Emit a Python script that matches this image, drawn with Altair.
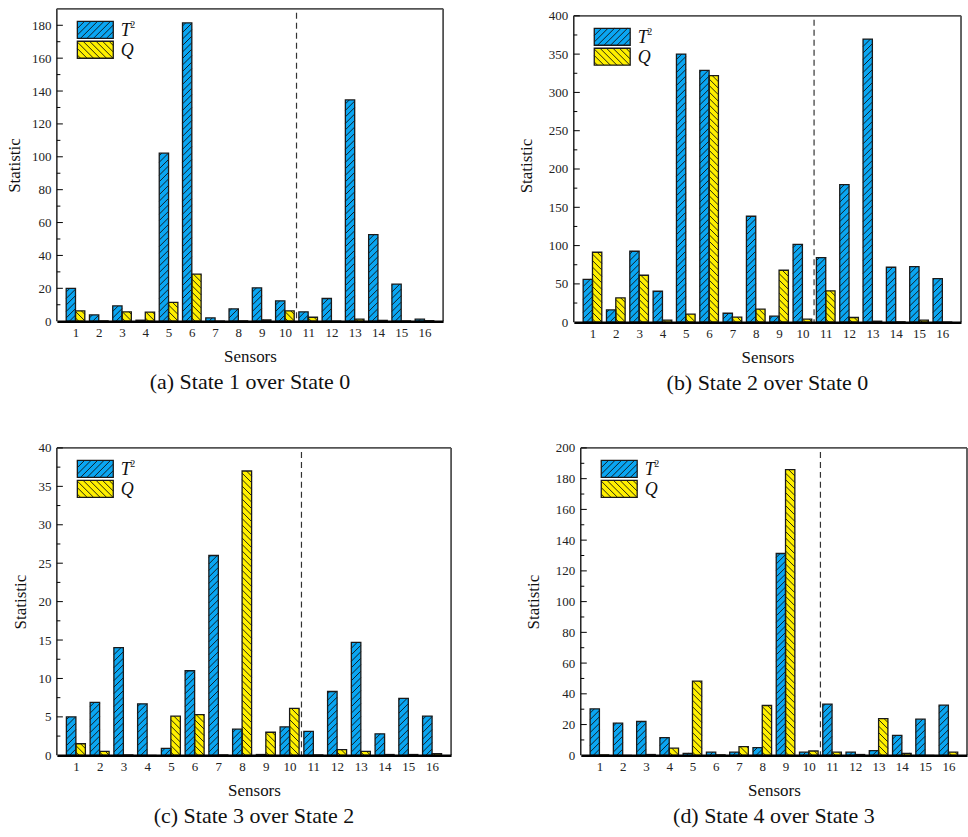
import altair as alt
import numpy as np
import pandas as pd

# ---------------- data ----------------
sensors = list(range(1, 17))

t2_a = [20.0, 3.8, 9.3, 0.6, 102.2, 181.4, 2.0, 7.5, 20.3, 12.4, 5.7, 13.8, 134.6, 52.7, 22.5, 1.2]
q_a = [6.3, 0.2, 5.7, 5.5, 11.4, 28.6, 0.1, 0.2, 0.8, 6.3, 2.4, 0.1, 1.2, 0.5, 0.2, 0.3]

t2_b = [56.0, 16.0, 92.6, 40.4, 350.0, 328.7, 11.7, 138.3, 7.8, 101.7, 84.3, 179.6, 369.6, 71.7, 72.6, 57.0]
q_b = [91.3, 31.7, 61.3, 2.6, 10.4, 322.0, 6.5, 17.0, 67.8, 3.9, 40.9, 6.1, 1.3, 0.5, 2.6, 0.2]

t2_c = [5.0, 6.9, 14.0, 6.7, 0.9, 11.0, 26.0, 3.4, 0.1, 3.7, 3.1, 8.3, 14.7, 2.8, 7.4, 5.1]
q_c = [1.5, 0.5, 0.05, 0.0, 5.1, 5.3, 0.05, 37.0, 3.0, 6.1, 0.05, 0.75, 0.5, 0.1, 0.1, 0.2]

t2_d = [30.2, 20.9, 22.0, 11.5, 1.3, 2.0, 2.0, 5.0, 131.3, 2.0, 33.3, 2.0, 3.0, 13.0, 23.5, 32.6]
q_d = [0.3, 0.0, 0.5, 4.6, 48.3, 0.3, 5.7, 32.4, 185.9, 2.8, 2.0, 0.5, 23.9, 1.3, 0.0, 2.0]

captions = ["(a) State 1 over State 0", "(b) State 2 over State 0",
            "(c) State 3 over State 2", "(d) State 4 over State 3"]
y_max = [190, 400, 40, 200]
y_step = [20, 50, 5, 20]
divider = 10.5

# ---------------- style ----------------
SERIF = "Liberation Serif"
BLUE = "#0AA6F2"
YELLOW = "#FFF000"
EDGE = "#1a1a1a"
BW = 0.4
XMIN, XMAX = 0.2, 16.8
HATCH = 6.5


def hatch_segs(w, h, s, kind):
    segs = []
    if w <= 0 or h < 1.2:
        return segs
    if kind == "/":
        k0 = int(np.floor(-w / s)) - 1
        k1 = int(np.ceil(h / s)) + 1
        for k in range(k0, k1 + 1):
            c = k * s + s / 2
            a = max(0.0, -c)
            b = min(w, h - c)
            if b - a > 0.4:
                segs.append((a, a + c, b, b + c))
    else:
        k1 = int(np.ceil((w + h) / s)) + 1
        for k in range(0, k1 + 1):
            c = k * s + s / 2
            a = max(0.0, c - h)
            b = min(w, c)
            if b - a > 0.4:
                segs.append((a, c - a, b, c - b))
    return segs


def panel(t2, q, ymax, step, W, H, caption, tpad, top_pad=0):
    """H is the framed plot height; top_pad adds empty room above the frame."""
    Hg = H + top_pad
    kx = W / (XMAX - XMIN)
    ky = H / ymax
    ydom = ymax * Hg / H
    xs = alt.Scale(domain=[XMIN, XMAX], nice=False, zero=False)
    ys = alt.Scale(domain=[0, ydom], nice=False, zero=False)

    rows = []
    for i, s in enumerate(sensors):
        rows.append(dict(series="T2", x0=s - BW, x1=s, y0=0.0, y1=t2[i]))
        rows.append(dict(series="Q", x0=s, x1=s + BW, y0=0.0, y1=q[i]))
    # legend swatches (pixel box converted into the panel's data space)
    for series, top in (("T2", 12.5), ("Q", 32.5)):
        L, sw, sh = 20.5, 36.0, 17.0
        tp = top + top_pad
        rows.append(dict(series=series,
                         x0=XMIN + L / kx, x1=XMIN + (L + sw) / kx,
                         y0=(Hg - tp - sh) / ky, y1=(Hg - tp) / ky))
    bars = pd.DataFrame(rows)

    hrows = []
    for r in rows:
        w = (r["x1"] - r["x0"]) * kx
        h = (r["y1"] - r["y0"]) * ky
        kind = "/" if r["series"] == "T2" else "\\"
        for (a, pa, b, pb) in hatch_segs(w, h, HATCH, kind):
            hrows.append(dict(hx1=r["x0"] + a / kx, hy1=r["y0"] + pa / ky,
                              hx2=r["x0"] + b / kx, hy2=r["y0"] + pb / ky))
    hatch = pd.DataFrame(hrows)

    majors = [m for m in range(0, ymax + 1, step) if m <= ymax]
    minors = [m + step / 2 for m in majors if m + step / 2 < ymax]

    xaxis = alt.Axis(title="Sensors", values=sensors, format="d", grid=False, ticks=False,
                     domainColor="black", domainWidth=2.5, labelFont=SERIF, labelFontSize=13,
                     labelColor="#222", labelPadding=5, titleFont=SERIF, titleFontSize=17,
                     titleFontWeight="normal", titleColor="#111", titlePadding=9,
                     labelOverlap=False, labelFlush=False, zindex=1)
    yaxis = alt.Axis(title="Statistic", values=majors, grid=False, ticks=False, domain=False,
                     labelFont=SERIF, labelFontSize=13,
                     labelColor="#222", labelPadding=6, titleFont=SERIF, titleFontSize=17,
                     titleFontWeight="normal", titleColor="#111", titlePadding=tpad,
                     labelOverlap=False, zindex=1)

    X = lambda f: alt.X(f, scale=xs, axis=xaxis)
    Y = lambda f: alt.Y(f, scale=ys, axis=yaxis)

    color = alt.Fill("series:N", scale=alt.Scale(domain=["T2", "Q"], range=[BLUE, YELLOW]),
                     legend=None)

    fill = alt.Chart(bars).mark_rect(strokeWidth=0).encode(
        x=X("x0:Q"), x2="x1", y=Y("y1:Q"), y2="y0", fill=color)

    lines = alt.Chart(hatch).mark_rule(color="#111", strokeWidth=0.9).encode(
        x=X("hx1:Q"), x2="hx2", y=Y("hy1:Q"), y2="hy2")

    outline = alt.Chart(bars).mark_rect(fillOpacity=0, stroke=EDGE, strokeWidth=1.3).encode(
        x=X("x0:Q"), x2="x1", y=Y("y1:Q"), y2="y0")

    # frame: left, right (black) and top (grey) borders
    def border(x1, x2, y1, y2, col, wid):
        return alt.Chart(pd.DataFrame({"fx": [x1], "fx2": [x2], "fy": [y1], "fy2": [y2]})
                         ).mark_rule(color=col, strokeWidth=wid).encode(
            x=X("fx:Q"), x2="fx2", y=Y("fy:Q"), y2="fy2")

    left = border(XMIN, XMIN, 0, ymax, "black", 1.3)
    right = border(XMAX, XMAX, 0, ymax, "#222", 1.4)
    topb = border(XMIN, XMAX, ymax, ymax, "#555", 1.8)

    tick_major = alt.Chart(pd.DataFrame({"v": majors[1:]})).mark_rule(
        color="black", strokeWidth=1).encode(
        y=Y("v:Q"), x=alt.value(0), x2=alt.value(6))
    tick_minor = alt.Chart(pd.DataFrame({"v": minors})).mark_rule(
        color="black", strokeWidth=1).encode(
        y=Y("v:Q"), x=alt.value(0), x2=alt.value(3.5))

    dash = alt.Chart(pd.DataFrame({"d": [divider]})).mark_rule(
        color="#333", strokeWidth=1.2, strokeDash=[6, 4]).encode(
        x=X("d:Q"), y=alt.value(4 + top_pad), y2=alt.value(Hg))

    one = pd.DataFrame({"k": [0]})
    t_text = alt.Chart(one).mark_text(text="T", font=SERIF, fontSize=18, fontStyle="italic",
                                      align="left", baseline="middle", color="#111").encode(
        x=alt.value(64), y=alt.value(22 + top_pad))
    sup_text = alt.Chart(one).mark_text(text="2", font=SERIF, fontSize=10,
                                        align="left", baseline="middle", color="#111").encode(
        x=alt.value(73.5), y=alt.value(16 + top_pad))
    q_text = alt.Chart(one).mark_text(text="Q", font=SERIF, fontSize=18, fontStyle="italic",
                                      align="left", baseline="middle", color="#111").encode(
        x=alt.value(64), y=alt.value(42 + top_pad))

    return alt.layer(fill, lines, outline, left, right, topb, tick_major, tick_minor, dash,
                     t_text, sup_text, q_text).properties(
        width=W, height=Hg,
        title=alt.TitleParams(caption, orient="bottom", anchor="middle", frame="group",
                              font=SERIF, fontSize=22, fontWeight="normal", color="#111",
                              offset=8))


pa = panel(t2_a, q_a, y_max[0], y_step[0], 387, 313, captions[0], 8)
pb = panel(t2_b, q_b, y_max[1], y_step[1], 388, 307, captions[1], 13, top_pad=7)
pc = panel(t2_c, q_c, y_max[2], y_step[2], 395, 308, captions[2], 8)
pd_ = panel(t2_d, q_d, y_max[3], y_step[3], 387, 308, captions[3], 13)

top = alt.hconcat(pa, pb, spacing=131, bounds="flush")
bottom = alt.hconcat(pc, pd_, spacing=130, bounds="flush")
chart = alt.vconcat(top, bottom, spacing=48).properties(
    padding={"left": 5, "top": 7, "right": 0, "bottom": 0},
    background="white",
).configure_view(strokeWidth=0)

chart.save("out.html", embed_options={"renderer": "svg", "actions": False})
